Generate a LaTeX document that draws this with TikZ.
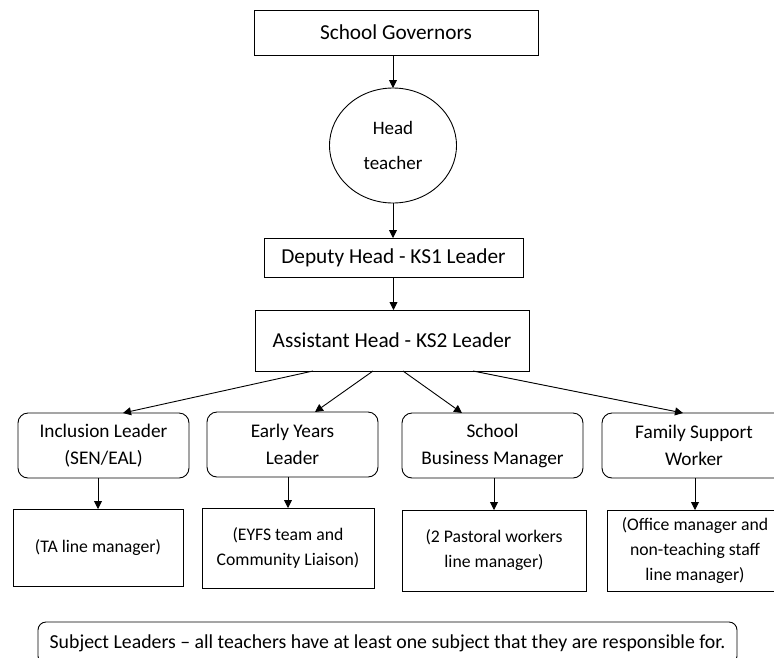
\documentclass[tikz,border=0pt]{standalone}
\usepackage{fontspec}
\setmainfont{Carlito}
\usetikzlibrary{arrows.meta,shapes.geometric,calc}
\begin{document}
\begin{tikzpicture}[x=1pt,y=-1pt,
  every node/.style={inner sep=0pt, outer sep=0pt, text=black},
  frame/.style={draw, line width=0.9pt},
  topbox/.style={frame, font=\fontsize{21.3}{27}\selectfont},
  rolebox/.style={frame, rounded corners=10pt, minimum height=65pt,
                  align=center, font=\fontsize{19.3}{27}\selectfont},
  teambox/.style={frame, align=center, font=\fontsize{17.7}{25}\selectfont},
  arr/.style={line width=0.9pt, -{Triangle[length=8pt,width=8pt]}},
]
\useasboundingbox (0,0) rectangle (774,657);
\clip (0,0) rectangle (774,657);

% leadership chain
\node[topbox, minimum width=284pt, minimum height=45pt] (gov) at (396,32.5) {School Governors};
\node[frame, ellipse, minimum width=127pt, minimum height=115pt, align=center,
      font=\fontsize{19}{35}\selectfont] (head) at (393,145.5) {Head\\teacher};
\node[topbox, minimum width=259pt, minimum height=39pt] (dep) at (393.5,257.5) {Deputy Head - KS1 Leader};
\node[topbox, minimum width=274pt, minimum height=61pt] (ast) at (392,340.5) {Assistant Head - KS2 Leader};

\draw[arr] (head.north |- gov.south) -- (head.north);
\draw[arr] (head.south) -- (head.south |- dep.north);
\draw[arr] (dep.south) -- (dep.south |- ast.north);

% senior roles
\node[rolebox, minimum width=171pt] (incl) at (103.5,445.5) {Inclusion Leader\\(SEN/EAL)};
\node[rolebox, minimum width=171pt] (early) at (292.5,444.5) {Early Years\\Leader};
\node[rolebox, minimum width=181pt] (sbm) at (492.5,445.5) {School\\Business Manager};
\node[rolebox, minimum width=184pt] (fam) at (694,445.5) {Family Support\\Worker};

\draw[arr] ($(ast.south)+(-79,0)$) -- ($(incl.north)+(19.5,0)$);
\draw[arr] ($(ast.south)+(-19,0)$) -- ($(early.north)+(22.5,0)$);
\draw[arr] ($(ast.south)+(11,0)$) -- ($(sbm.north)+(-30.5,0)$);
\draw[arr] ($(ast.south)+(81,0)$) -- ($(fam.north)+(-11,0)$);

% teams managed
\node[teambox, minimum width=170pt, minimum height=77pt] (ta) at (98,547.5) {(TA line manager)};
\node[teambox, minimum width=172pt, minimum height=80pt] (eyfs) at (288,548) {(EYFS team and\\Community Liaison)};
\node[teambox, minimum width=184pt, minimum height=81pt] (past) at (494,550.5) {(2 Pastoral workers\\line manager)};
\node[teambox, minimum width=176pt, minimum height=81pt] (off) at (695,550.5) {(Office manager and\\non-teaching staff\\line manager)};

\draw[arr] (ta.north |- incl.south) -- (ta.north);
\draw[arr] (eyfs.north |- early.south) -- (eyfs.north);
\draw[arr] (past.north |- sbm.south) -- (past.north);
\draw[arr] (off.north |- fam.south) -- (off.north);

% note on subject leadership
\node[frame, rounded corners=8pt, minimum width=699pt, minimum height=42pt,
      font=\fontsize{19.8}{24}\selectfont] (subj) at (387.5,643)
  {Subject Leaders – all teachers have at least one subject that they are responsible for.};
\end{tikzpicture}
\end{document}
